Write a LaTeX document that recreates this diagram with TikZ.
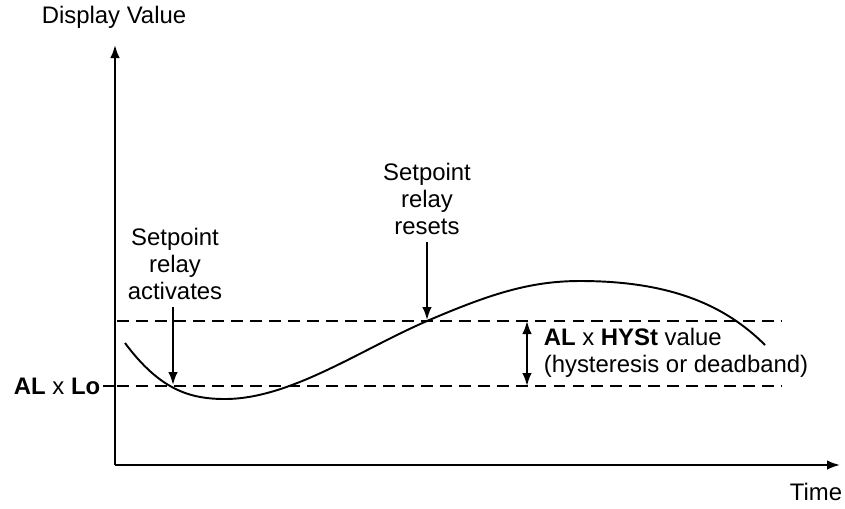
\documentclass[tikz,border=0pt]{standalone}
\usepackage{fontspec}
\setmainfont{Liberation Sans}
\usetikzlibrary{positioning,arrows.meta}

\newcommand{\dsp}[1]{\textbf{#1}}

\begin{document}
\begin{tikzpicture}[x=0.2mm,y=-0.2mm,>={Latex[length=2.6mm,width=1.9mm]},line width=1.1pt,
        every node/.style={font=\fontsize{13.6}{15.5}\selectfont},
        level/.style={dash pattern=on 6.8pt off 4pt}]
        \useasboundingbox (0,0) rectangle (845,508);
        % axis
        \coordinate (O) at (115,465);
        \coordinate (ytop) at (115,45);
        \coordinate (xend) at (840,465);
        \draw[->] (O) -- (ytop);
        \draw[->] (O) -- (xend);
        \node (ylab) at (114,17) {Display Value};
        \node (xlab) at (816,492) {Time};
        % setpoint levels
        \coordinate (hi0) at (117,321);
        \coordinate (hi1) at (782,321);
        \coordinate (lo0) at (117,386);
        \coordinate (lo1) at (782,386);
        \coordinate (tick) at (103,386);
        \draw (tick) -- (O |- lo0);
        \draw[level] (hi0) -- (hi1);
        \draw[level] (lo0) -- (lo1);
        \node[anchor=east,inner sep=1pt] (lolab) at (tick) {\dsp{AL} x \dsp{Lo}};
        % process value
        \draw (125,343) .. controls (160,390) and (190,399) .. (225,399)
            .. controls (290,399) and (360,350) .. (427,321)
            .. controls (490,294) and (530,281) .. (580,281)
            .. controls (670,281) and (725,305) .. (765,345);
        % relay activates
        \node[align=center] (act) at (175,264) {Setpoint\\relay\\activates};
        \coordinate (actpt) at (173,385);
        \draw[->] (act.south -| actpt) -- (actpt);
        % relay resets
        \node[align=center] (rst) at (427,199) {Setpoint\\relay\\resets};
        \coordinate (rstpt) at (427,320);
        \draw[->] (rst.south -| rstpt) -- (rstpt);
        % hysteresis band
        \coordinate (hyhi) at (527,321);
        \coordinate (hylo) at (527,386);
        \draw[<->] (hyhi) -- (hylo);
        \node[anchor=west,align=left] (hylab) at (537,353)
            {\dsp{AL} x \dsp{HYSt} value\\(hysteresis or deadband)};
\end{tikzpicture}
\end{document}
